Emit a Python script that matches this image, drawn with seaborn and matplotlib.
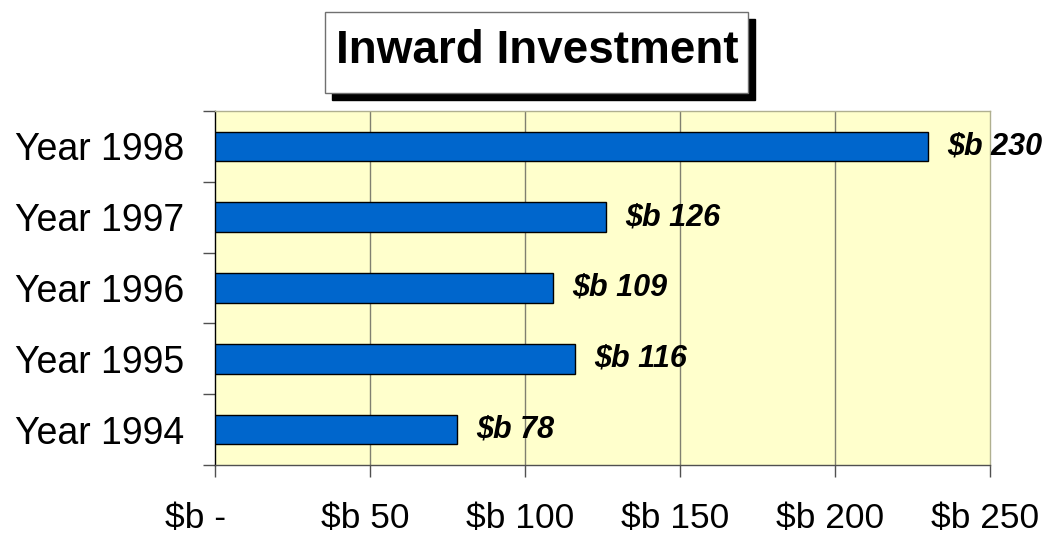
import numpy as np
import pandas as pd
import seaborn as sns
from matplotlib import pyplot as plt
from matplotlib.patches import Rectangle

years = ['Year 1998', 'Year 1997', 'Year 1996', 'Year 1995', 'Year 1994']
values = [230, 126, 109, 116, 78]
x_ticks = [0, 50, 100, 150, 200, 250]
# trailing spaces mimic the accounting number format alignment
x_labels = ['$b -    ', '$b 50 ', '$b 100 ', '$b 150 ', '$b 200 ', '$b 250 ']

df = pd.DataFrame({'year': years, 'value': values})

sns.set_style('white')
plt.rcParams['font.family'] = ['Liberation Sans', 'DejaVu Sans']
plt.rcParams['text.color'] = 'black'
plt.rcParams['xtick.labelcolor'] = 'black'
plt.rcParams['ytick.labelcolor'] = 'black'

fig = plt.figure(figsize=(10.48, 5.36), dpi=100)
ax = fig.add_axes([0.2052, 0.1325, 0.7395, 0.6604])
ax.set_facecolor('#FFFFCC')

sns.barplot(data=df, x='value', y='year', order=years, orient='h',
            color='#0066CC', saturation=1, width=0.42,
            edgecolor='black', linewidth=1, ax=ax, zorder=3)

ax.set_xlim(0, 250)
ax.set_ylim(4.5, -0.5)
ax.set_xlabel('')
ax.set_ylabel('')

ax.set_xticks(x_ticks)
ax.set_xticklabels(x_labels, fontsize=25.5, color='black')
ax.tick_params(axis='x', length=8.6, width=1, color='#505050', pad=18, bottom=True)
ax.set_yticks(range(len(years)))
ax.set_yticklabels(years, fontsize=27, color='black')
ax.tick_params(axis='y', which='major', length=0, pad=22)
ax.set_yticks(np.arange(-0.5, len(years), 1), minor=True)
ax.tick_params(axis='y', which='minor', length=8.6, width=1, color='#505050', left=True)

for v in x_ticks[1:-1]:
    ax.axvline(v, color='#808070', lw=1, zorder=1)

ax.spines['left'].set_color('black')
ax.spines['bottom'].set_color('#505050')
ax.spines['top'].set_color('#b0b090')
ax.spines['right'].set_color('#b0b090')
for s in ax.spines.values():
    s.set_linewidth(1)

for i, v in enumerate(values):
    ax.annotate(f'$b {v}', xy=(v, i), xytext=(14, 0), textcoords='offset points',
                ha='left', va='center', fontsize=22, fontweight='bold',
                fontstyle='italic', color='black', annotation_clip=False, zorder=4)

# title box with drop shadow
fig.patches.append(Rectangle((0.3168, 0.8134), 0.4036, 0.1511, transform=fig.transFigure,
                             facecolor='black', edgecolor='black', zorder=1))
fig.patches.append(Rectangle((0.3101, 0.8265), 0.4036, 0.1511, transform=fig.transFigure,
                             facecolor='white', edgecolor='#707070', linewidth=1, zorder=2))
fig.text(0.5124, 0.905, 'Inward Investment', fontsize=33, fontweight='bold',
         ha='center', va='center', color='black', zorder=3)

plt.savefig('out.png', dpi=100)
